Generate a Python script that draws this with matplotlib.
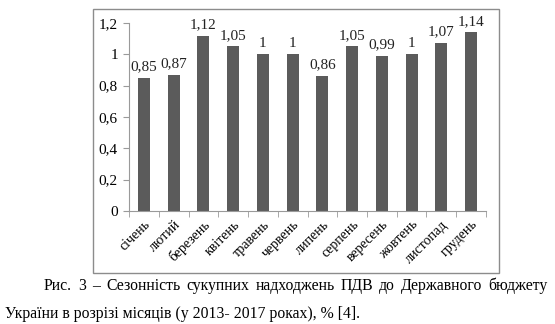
import matplotlib
matplotlib.use("Agg")
import matplotlib.pyplot as plt
from matplotlib.patches import Rectangle
import numpy as np

months = ["січень", "лютий", "березень", "квітень", "травень", "червень",
          "липень", "серпень", "вересень", "жовтень", "листопад", "грудень"]
values = [0.85, 0.87, 1.12, 1.05, 1, 1, 0.86, 1.05, 0.99, 1, 1.07, 1.14]
value_labels = ["0,85", "0,87", "1,12", "1,05", "1", "1", "0,86", "1,05", "0,99", "1", "1,07", "1,14"]
y_ticks = [0, 0.2, 0.4, 0.6, 0.8, 1.0, 1.2]
y_tick_labels = ["0", "0,2", "0,4", "0,6", "0,8", "1", "1,2"]

caption_1 = "Рис. 3 – Сезонність сукупних надходжень ПДВ до Державного бюджету"
caption_2 = "України в розрізі місяців (у 2013- 2017 роках), % [4]."

W, H = 555, 324
plt.rcParams['font.family'] = ['Liberation Serif', 'DejaVu Serif']

fig = plt.figure(figsize=(W / 100, H / 100), dpi=100)

# frame around the chart area
fig.patches.append(Rectangle((93 / W, 1 - 273 / H), (499 - 93) / W, (273 - 9) / H,
                             transform=fig.transFigure, fill=False,
                             edgecolor="#8c8c8c", linewidth=1.0))

ax = fig.add_axes([129 / W, 1 - 211 / H, (486 - 129) / W, (211 - 23) / H])
x = np.arange(len(months))
ax.bar(x, values, width=0.4, color="#5b5b5b")
for xi, v, lab in zip(x, values, value_labels):
    ax.text(xi, v + 0.03, lab, ha="center", va="bottom", fontsize=11, color="#222222")

ax.set_xlim(-0.5, len(months) - 0.5)
ax.set_ylim(0, 1.2)
ax.set_yticks(y_ticks)
ax.set_yticklabels(y_tick_labels, fontsize=11)

# category labels sit at bar centres, tick marks between categories
ax.set_xticks(x)
ax.set_xticklabels(months, rotation=45, ha="right", rotation_mode="anchor", fontsize=10)
ax.tick_params(axis="x", length=0, pad=5)
ax.set_xticks(np.arange(-0.5, len(months)), minor=True)
ax.tick_params(axis="x", which="minor", length=4, color="#9a9a9a")
ax.tick_params(axis="y", length=4, color="#9a9a9a", pad=4)

for side in ["top", "right"]:
    ax.spines[side].set_visible(False)
for side in ["left", "bottom"]:
    ax.spines[side].set_color("#9a9a9a")

# first caption line is justified between x0 and x1
cap_size = 11.3
x0, x1 = 44, 548
renderer = fig.canvas.get_renderer()
words = caption_1.split(" ")
widths = []
for w in words:
    t = fig.text(0, 0, w, fontsize=cap_size)
    widths.append(t.get_window_extent(renderer).width)
    t.remove()
gap = (x1 - x0 - sum(widths)) / (len(words) - 1)
pos = x0
for w, wd in zip(words, widths):
    fig.text(pos / W, 1 - 290 / H, w, ha="left", va="baseline", fontsize=cap_size)
    pos += wd + gap

fig.text(5 / W, 1 - 318 / H, caption_2, ha="left", va="baseline", fontsize=cap_size)

fig.savefig("out.png", dpi=100)
